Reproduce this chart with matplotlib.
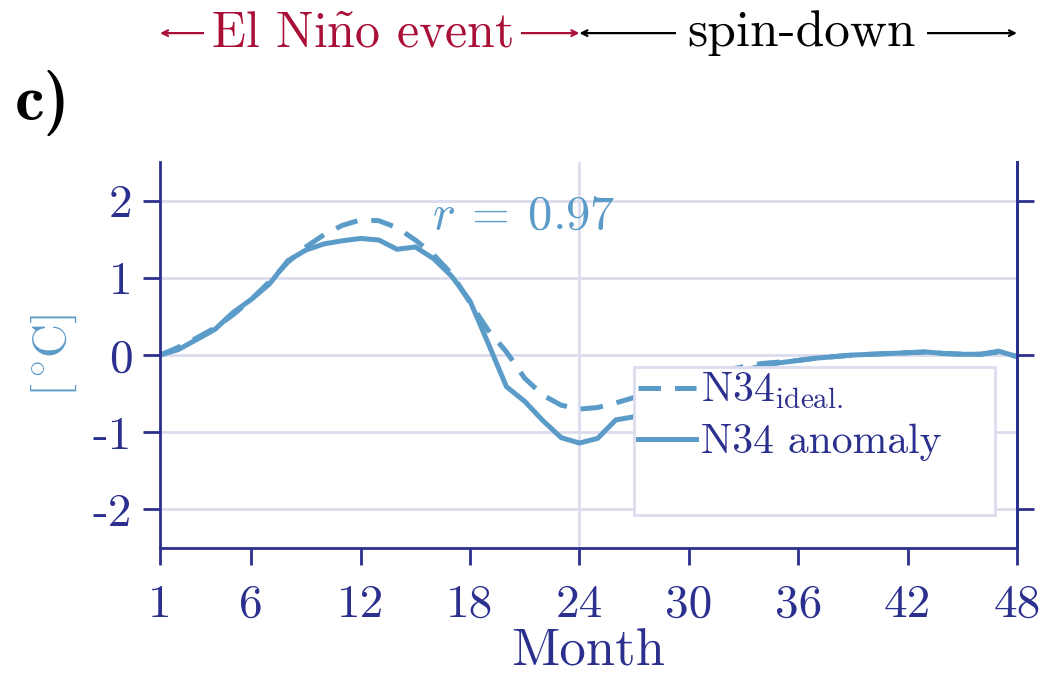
import matplotlib
matplotlib.use('Agg')
import matplotlib.pyplot as plt
import matplotlib.transforms as mtransforms
import numpy as np

plt.rcParams['font.family'] = ['cmr10', 'DejaVu Serif']
plt.rcParams['mathtext.fontset'] = 'cm'
plt.rcParams['axes.formatter.use_mathtext'] = True
plt.rcParams['axes.unicode_minus'] = False

# data
months = np.arange(1, 49)
n34_anomaly = [0.00, 0.07, 0.20, 0.33, 0.55, 0.72, 0.92, 1.22, 1.36, 1.44,
               1.48, 1.51, 1.49, 1.37, 1.40, 1.25, 1.02, 0.70, 0.15, -0.41,
               -0.60, -0.85, -1.07, -1.14, -1.08, -0.84, -0.80, -0.72, -0.60, -0.48,
               -0.38, -0.28, -0.20, -0.14, -0.10, -0.07, -0.04, -0.02, 0.00, 0.01,
               0.02, 0.03, 0.04, 0.02, 0.01, 0.01, 0.05, -0.02]
n34_ideal = [0.00, 0.10, 0.22, 0.35, 0.52, 0.72, 0.95, 1.20, 1.40, 1.56,
             1.68, 1.75, 1.74, 1.65, 1.49, 1.30, 1.05, 0.68, 0.32, 0.04,
             -0.30, -0.52, -0.65, -0.70, -0.68, -0.62, -0.55, -0.47, -0.39, -0.32,
             -0.25, -0.20, -0.15, -0.11, -0.09, -0.07, -0.04, -0.02, 0.00, 0.01,
             0.02, 0.03, 0.04, 0.02, 0.01, 0.01, 0.04, -0.02]
xticks = [1, 6, 12, 18, 24, 30, 36, 42, 48]
yticks = [-2, -1, 0, 1, 2]
ytick_labels = ['-2', '-1', '0', '1', '2']

navy = '#2b2f8e'
blue = '#5b9bc8'
grid_c = '#dcdcee'
red = '#aa0f38'

fig = plt.figure(figsize=(10.48, 6.78), dpi=100)
ax = fig.add_axes([0.1527, 0.1917, 0.8177, 0.5693])

for v in yticks:
    ax.axhline(v, color=grid_c, lw=2, zorder=0)
ax.axvline(24, color=grid_c, lw=2, zorder=0)

ax.plot(months, n34_ideal, color=blue, lw=3.6, ls=(0, (4.5, 2.8)), label=r'N34$_{\rm ideal.}$')
ax.plot(months, n34_anomaly, color=blue, lw=3.6, label='N34 anomaly')
ax.plot([], [], color='none', label=' ')

ax.set_xlim(1, 48)
ax.set_ylim(-2.5, 2.5)
ax.set_xticks(xticks)
ax.set_xticklabels([str(t) for t in xticks])
ax.set_yticks(yticks)
ax.set_yticklabels(ytick_labels)
ax.tick_params(colors=navy, labelcolor=navy, labelsize=34, width=2, length=12, direction='out')
ax.tick_params(axis='x', pad=14)
ax.tick_params(axis='y', pad=8)
for s in ['left', 'right', 'bottom']:
    ax.spines[s].set_color(navy)
    ax.spines[s].set_linewidth(2)
ax.spines['top'].set_visible(False)

ax2 = ax.twinx()
ax2.set_ylim(-2.5, 2.5)
ax2.set_yticks([-2, 0, 2])
ax2.set_yticklabels([])
ax2.tick_params(colors=navy, width=2, length=12)
ax2.spines['top'].set_visible(False)
ax2.spines['right'].set_color(navy)
ax2.spines['right'].set_linewidth(2)
ax2.spines['left'].set_visible(False)
ax2.spines['bottom'].set_visible(False)

ax.set_xlabel('Month', color=navy, fontsize=38, labelpad=2)
ax.set_ylabel(r'[$^\circ\!$C]', color=blue, fontsize=34, labelpad=10)

ax.text(15.9, 1.79, r'$r\:=\:0.97$', color=blue, fontsize=35, ha='left', va='center')

leg = ax.legend(loc='upper left', bbox_to_anchor=(0.553, 0.0, 0.421, 0.469),
                mode='expand', fontsize=30, frameon=True, fancybox=False, framealpha=1,
                handlelength=1.4, handletextpad=0.1, labelspacing=0.3,
                borderpad=0.1, borderaxespad=0.0)
leg.get_frame().set_edgecolor(grid_c)
leg.get_frame().set_linewidth(2)
for t in leg.get_texts():
    t.set_color(navy)

# top period arrows
trans = mtransforms.blended_transform_factory(ax.transData, ax.transAxes)
ya = 1.334
ax.annotate('', xy=(1, ya), xytext=(24, ya), xycoords=trans, textcoords=trans,
            arrowprops=dict(arrowstyle='<->', color=red, lw=1.6, shrinkA=0, shrinkB=0,
                            mutation_scale=10), annotation_clip=False)
ax.text(12.1, ya, r'El Ni$\tilde{\rm n}$o event', transform=trans, color=red,
        fontsize=36, ha='center', va='center',
        bbox=dict(facecolor='white', edgecolor='none', pad=5))
ax.annotate('', xy=(24, ya), xytext=(48, ya), xycoords=trans, textcoords=trans,
            arrowprops=dict(arrowstyle='<->', color='black', lw=1.6, shrinkA=0, shrinkB=0,
                            mutation_scale=10), annotation_clip=False)
ax.text(36.2, ya, 'spin-down', transform=trans, color='black',
        fontsize=37, ha='center', va='center',
        bbox=dict(facecolor='white', edgecolor='none', pad=8))

fig.text(0.014, 0.848, 'c)', fontsize=48, ha='left', va='center', color='black',
         family=['cmb10', 'DejaVu Serif'])

fig.savefig('out.png', dpi=100, facecolor='white')
